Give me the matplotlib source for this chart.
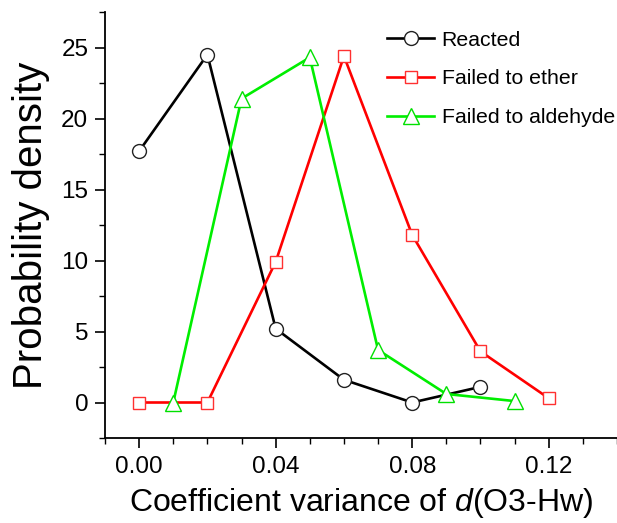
import matplotlib
matplotlib.use("Agg")
import matplotlib.pyplot as plt
from matplotlib.ticker import MultipleLocator

plt.rcParams['font.family'] = ['Liberation Sans', 'DejaVu Sans']
plt.rcParams['mathtext.fontset'] = 'custom'
plt.rcParams['mathtext.it'] = 'Liberation Sans:italic'
plt.rcParams['mathtext.rm'] = 'Liberation Sans'

x_reacted = [0.00, 0.02, 0.04, 0.06, 0.08, 0.10]
y_reacted = [17.7, 24.5, 5.2, 1.6, 0.0, 1.1]

x_ether = [0.00, 0.02, 0.04, 0.06, 0.08, 0.10, 0.12]
y_ether = [0.0, 0.0, 9.9, 24.4, 11.8, 3.6, 0.3]

x_aldehyde = [0.01, 0.03, 0.05, 0.07, 0.09, 0.11]
y_aldehyde = [0.0, 21.4, 24.3, 3.7, 0.6, 0.1]

labels = ["Reacted", "Failed to ether", "Failed to aldehyde"]

fig = plt.figure(figsize=(6.17, 5.23), dpi=100)
ax = fig.add_axes([105/617, 85/523, 1 - 105/617, (438-12)/523])

ax.plot(x_reacted, y_reacted, color='black', lw=1.9, marker='o', ms=10,
        mfc='white', mec='#222222', mew=1.0, label=labels[0])
ax.plot(x_ether, y_ether, color='#ff0000', lw=1.9, marker='s', ms=9,
        mfc='white', mec='#ff3030', mew=1.0, label=labels[1])
ax.plot(x_aldehyde, y_aldehyde, color='#00ee00', lw=1.9, marker='^', ms=11,
        mfc='white', mec='#00e000', mew=1.0, label=labels[2])

ax.set_xlim(-0.01, 0.14)
ax.set_ylim(-2.5, 27.5)
ax.xaxis.set_major_locator(MultipleLocator(0.04))
ax.xaxis.set_minor_locator(MultipleLocator(0.01))
ax.yaxis.set_major_locator(MultipleLocator(5))
ax.yaxis.set_minor_locator(MultipleLocator(2.5))
ax.set_xticks([0.0, 0.04, 0.08, 0.12])
ax.set_xticklabels(['0.00', '0.04', '0.08', '0.12'])

for s in ['top', 'right']:
    ax.spines[s].set_visible(False)
for s in ['left', 'bottom']:
    ax.spines[s].set_linewidth(1.3)

ax.tick_params(which='major', direction='out', length=7, width=1.2, labelsize=17.5, pad=5)
ax.tick_params(which='minor', direction='out', length=4, width=1.0)
ax.tick_params(axis='x', which='major', pad=6)

ax.set_ylabel('Probability density', fontsize=29, labelpad=8)
ax.set_xlabel(r'Coefficient variance of $\it{d}$(O3-Hw)', fontsize=23, labelpad=6)

leg = ax.legend(loc='upper left', bbox_to_anchor=(0.535, 0.976), frameon=False,
                fontsize=15.3, handlelength=2.2, handletextpad=0.35, labelspacing=0.93,
                borderaxespad=0)

fig.savefig('out.png', dpi=100)
